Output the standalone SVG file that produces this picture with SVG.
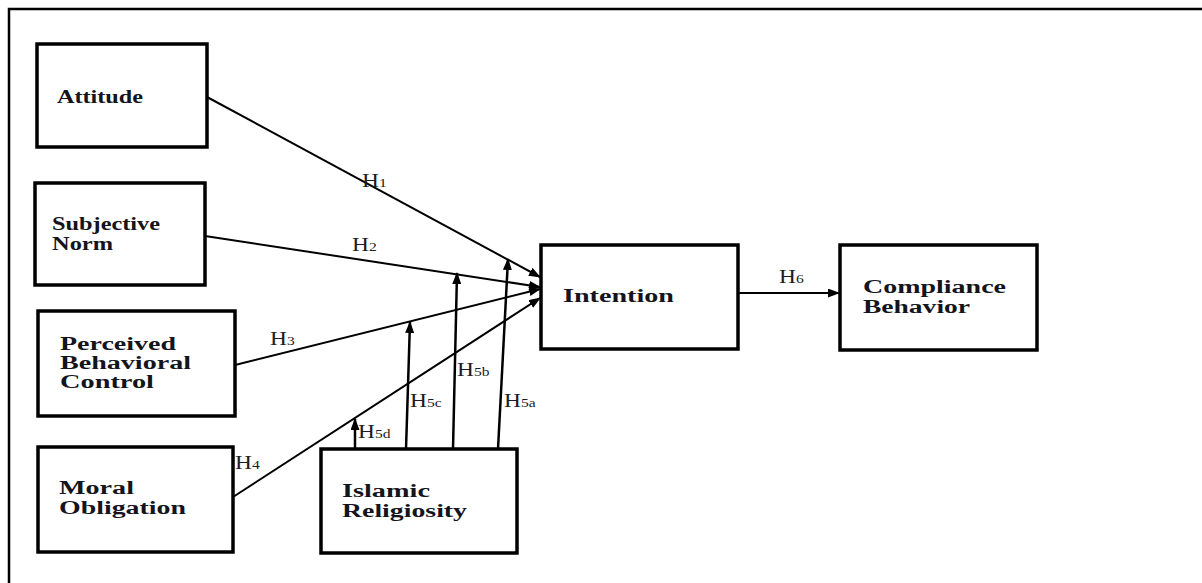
<svg xmlns="http://www.w3.org/2000/svg" width="1202" height="583" viewBox="0 0 1202 583">
  <style>
    .box { fill: #fff; stroke: #000; stroke-width: 3.5; }
    .name { font-family: "Liberation Serif", "Times New Roman", serif; font-weight: bold; font-size: 18px; fill: #14141c; }
    .hyp { font-family: "Liberation Serif", "Times New Roman", serif; font-size: 18px; fill: #1c1c22; }
    .sub { font-size: 12px; }
    .edge { fill: none; stroke: #000; stroke-width: 2; }
    .mod { fill: none; stroke: #000; stroke-width: 2.5; }
  </style>
  <defs>
    <marker id="arrow" markerUnits="userSpaceOnUse" markerWidth="12" markerHeight="10" refX="11" refY="4.5" orient="auto">
      <path d="M0,0 L12,4.5 L0,9 z" fill="#000"/>
    </marker>
  </defs>

  <rect width="1202" height="583" fill="#fff"/>
  <!-- frame: top and left rule only -->
  <path d="M9,583 V9 H1202" fill="none" stroke="#000" stroke-width="2.5"/>

  <g id="connectors">
    <!-- predictors to intention -->
    <line class="edge" x1="207" y1="97" x2="540" y2="277" marker-end="url(#arrow)"/>
    <line class="edge" x1="205" y1="236" x2="540" y2="287" marker-end="url(#arrow)"/>
    <line class="edge" x1="235" y1="365" x2="540" y2="289" marker-end="url(#arrow)"/>
    <line class="edge" x1="233" y1="497" x2="540" y2="298" marker-end="url(#arrow)"/>
    <!-- intention to behaviour -->
    <line class="edge" x1="738" y1="293" x2="839" y2="293" marker-end="url(#arrow)"/>
    <!-- moderation paths from religiosity -->
    <line class="mod" x1="498" y1="449" x2="508" y2="259" marker-end="url(#arrow)"/>
    <line class="mod" x1="453" y1="449" x2="457" y2="273" marker-end="url(#arrow)"/>
    <line class="mod" x1="406" y1="449" x2="410" y2="322" marker-end="url(#arrow)"/>
    <line class="mod" x1="355" y1="449" x2="355" y2="419" marker-end="url(#arrow)"/>

    <!-- hypothesis labels -->
    <text class="hyp" transform="translate(362,187) scale(1.3,1)">H<tspan class="sub">1</tspan></text>
    <text class="hyp" transform="translate(352,251) scale(1.3,1)">H<tspan class="sub">2</tspan></text>
    <text class="hyp" transform="translate(270,345) scale(1.3,1)">H<tspan class="sub">3</tspan></text>
    <text class="hyp" transform="translate(235,469) scale(1.3,1)">H<tspan class="sub">4</tspan></text>
    <text class="hyp" transform="translate(779,283) scale(1.3,1)">H<tspan class="sub">6</tspan></text>
    <text class="hyp" transform="translate(504,407) scale(1.3,1)">H<tspan class="sub">5a</tspan></text>
    <text class="hyp" transform="translate(457,376) scale(1.3,1)">H<tspan class="sub">5b</tspan></text>
    <text class="hyp" transform="translate(410,407) scale(1.3,1)">H<tspan class="sub">5c</tspan></text>
    <text class="hyp" transform="translate(358,438) scale(1.3,1)">H<tspan class="sub">5d</tspan></text>
  </g>

  <g id="attitude">
    <rect class="box" x="37" y="44" width="170" height="103"/>
    <text class="name" x="57" y="103" textLength="86" lengthAdjust="spacingAndGlyphs">Attitude</text>
  </g>

  <g id="subjective-norm">
    <rect class="box" x="35" y="183" width="170" height="102"/>
    <text class="name" x="52" y="230" textLength="108" lengthAdjust="spacingAndGlyphs">Subjective</text>
    <text class="name" x="52" y="250" textLength="61" lengthAdjust="spacingAndGlyphs">Norm</text>
  </g>

  <g id="perceived-behavioral-control">
    <rect class="box" x="38" y="311" width="197" height="105"/>
    <text class="name" x="60" y="350" textLength="116" lengthAdjust="spacingAndGlyphs">Perceived</text>
    <text class="name" x="60" y="369" textLength="131" lengthAdjust="spacingAndGlyphs">Behavioral</text>
    <text class="name" x="60" y="388" textLength="94" lengthAdjust="spacingAndGlyphs">Control</text>
  </g>

  <g id="moral-obligation">
    <rect class="box" x="38" y="447" width="195" height="105"/>
    <text class="name" x="59" y="494" textLength="75" lengthAdjust="spacingAndGlyphs">Moral</text>
    <text class="name" x="59" y="514" textLength="127" lengthAdjust="spacingAndGlyphs">Obligation</text>
  </g>

  <g id="islamic-religiosity">
    <rect class="box" x="321" y="449" width="196" height="104"/>
    <text class="name" x="342" y="497" textLength="88" lengthAdjust="spacingAndGlyphs">Islamic</text>
    <text class="name" x="342" y="517" textLength="125" lengthAdjust="spacingAndGlyphs">Religiosity</text>
  </g>

  <g id="intention">
    <rect class="box" x="541" y="245" width="197" height="104"/>
    <text class="name" x="563" y="302" textLength="111" lengthAdjust="spacingAndGlyphs">Intention</text>
  </g>

  <g id="compliance-behavior">
    <rect class="box" x="840" y="245" width="197" height="105"/>
    <text class="name" x="863" y="293" textLength="143" lengthAdjust="spacingAndGlyphs">Compliance</text>
    <text class="name" x="863" y="313" textLength="107" lengthAdjust="spacingAndGlyphs">Behavior</text>
  </g>
</svg>
